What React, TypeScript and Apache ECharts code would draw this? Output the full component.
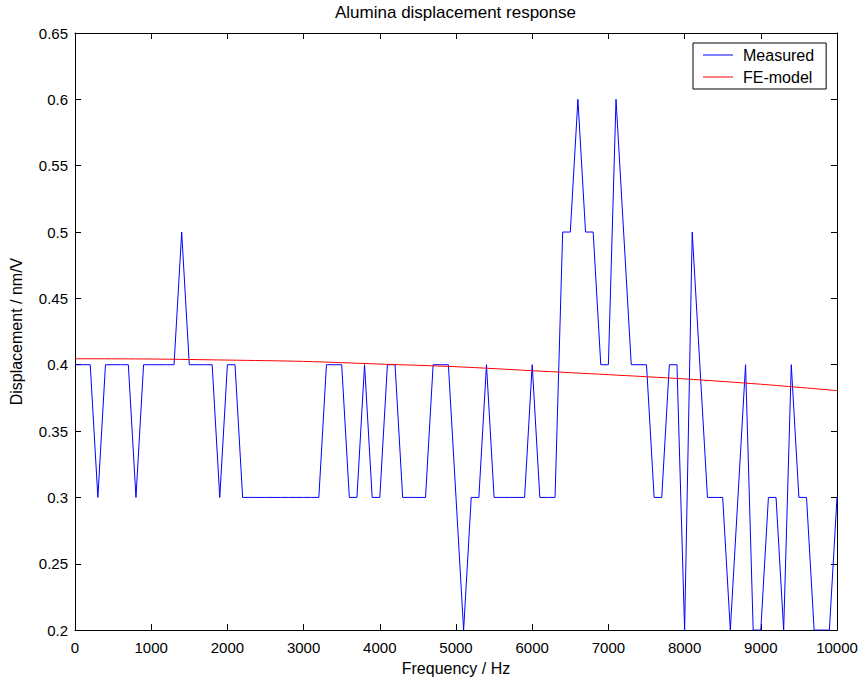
import React, { useEffect, useRef } from "react";
import * as echarts from "echarts";

// Measured response, sampled every 100 Hz from 0 to 10000 Hz
const FREQ_STEP_HZ = 100;
const measured: number[] = [
  0.4, 0.4, 0.4, 0.3, 0.4, 0.4, 0.4, 0.4, 0.3, 0.4,
  0.4, 0.4, 0.4, 0.4, 0.5, 0.4, 0.4, 0.4, 0.4, 0.3,
  0.4, 0.4, 0.3, 0.3, 0.3, 0.3, 0.3, 0.3, 0.3, 0.3,
  0.3, 0.3, 0.3, 0.4, 0.4, 0.4, 0.3, 0.3, 0.4, 0.3,
  0.3, 0.4, 0.4, 0.3, 0.3, 0.3, 0.3, 0.4, 0.4, 0.4,
  0.3, 0.2, 0.3, 0.3, 0.4, 0.3, 0.3, 0.3, 0.3, 0.3,
  0.4, 0.3, 0.3, 0.3, 0.5, 0.5, 0.6, 0.5, 0.5, 0.4,
  0.4, 0.6, 0.5, 0.4, 0.4, 0.4, 0.3, 0.3, 0.4, 0.4,
  0.2, 0.5, 0.4, 0.3, 0.3, 0.3, 0.2, 0.3, 0.4, 0.2,
  0.2, 0.3, 0.3, 0.2, 0.4, 0.3, 0.3, 0.2, 0.2, 0.2,
  0.3,
];

// FE-model curve
const feFreqs: number[] = [0, 1000, 2000, 3000, 4000, 5000, 6000, 7000, 8000, 9000, 10000];
const feModel: number[] = [0.4045, 0.4043, 0.4035, 0.4025, 0.4005, 0.3985, 0.3955, 0.3925, 0.3893, 0.3853, 0.3805];

const seriesNames = ["Measured", "FE-model"];
const titleText = "Alumina displacement response";
const xName = "Frequency / Hz";
const yName = "Displacement / nm/V";

const FONT = "'Liberation Sans', Arial, Helvetica, sans-serif";

export default function App() {
  const ref = useRef<HTMLDivElement>(null);
  useEffect(() => {
    if (!ref.current) return;
    const chart = echarts.init(ref.current, undefined, { renderer: "svg" });
    const measuredData = measured.map((v, i) => [i * FREQ_STEP_HZ, v]);
    const feData = feFreqs.map((f, i) => [f, feModel[i]]);
    const axisCommon = {
      type: "value" as const,
      axisLine: { show: true, onZero: false, lineStyle: { color: "#000", width: 1 } },
      axisTick: { show: true, inside: true, length: 6, lineStyle: { color: "#000" } },
      splitLine: { show: false },
    };
    chart.setOption({
      animation: false,
      backgroundColor: "#fff",
      title: {
        text: titleText,
        left: 335,
        top: 4,
        padding: 0,
        textStyle: { fontFamily: FONT, fontSize: 17, fontWeight: "normal", color: "#000" },
      },
      grid: { left: 75, right: 26, top: 33, bottom: 49, containLabel: false },
      legend: {
        orient: "vertical",
        left: 693,
        top: 43,
        data: seriesNames,
        icon: "rect",
        itemWidth: 30,
        itemHeight: 1,
        itemGap: 4,
        padding: [3, 12, 3, 10],
        borderColor: "#000",
        borderWidth: 1,
        backgroundColor: "#fff",
        textStyle: { fontFamily: FONT, fontSize: 16, color: "#000", lineHeight: 18, padding: [0, 0, 0, 5] },
      },
      xAxis: [
        {
          ...axisCommon,
          position: "bottom",
          min: 0,
          max: 10000,
          interval: 1000,
          axisLabel: {
            show: true,
            color: "#000",
            fontFamily: FONT,
            fontSize: 15,
            margin: 10,
            formatter: (v: number) => String(Math.round(v)),
          },
          name: xName,
          nameLocation: "middle",
          nameGap: 26,
          nameTextStyle: { color: "#000", fontFamily: FONT, fontSize: 16 },
        },
        {
          ...axisCommon,
          position: "top",
          min: 0,
          max: 10000,
          interval: 1000,
          axisLabel: { show: false },
        },
      ],
      yAxis: [
        {
          ...axisCommon,
          position: "left",
          min: 0.2,
          max: 0.65,
          interval: 0.05,
          axisLabel: {
            show: true,
            color: "#000",
            fontFamily: FONT,
            fontSize: 15,
            margin: 7,
            formatter: (v: number) => String(Math.round(v * 100) / 100),
          },
          name: yName,
          nameLocation: "middle",
          nameGap: 51,
          nameRotate: 90,
          nameTextStyle: { color: "#000", fontFamily: FONT, fontSize: 16 },
        },
        {
          ...axisCommon,
          position: "right",
          min: 0.2,
          max: 0.65,
          interval: 0.05,
          axisLabel: { show: false },
        },
      ],
      series: [
        {
          name: seriesNames[0],
          type: "line",
          data: measuredData,
          xAxisIndex: 0,
          yAxisIndex: 0,
          showSymbol: false,
          symbol: "none",
          lineStyle: { color: "#0000ff", width: 1 },
          itemStyle: { color: "#0000ff" },
        },
        {
          name: seriesNames[1],
          type: "line",
          data: feData,
          xAxisIndex: 0,
          yAxisIndex: 0,
          smooth: 0.3,
          showSymbol: false,
          symbol: "none",
          lineStyle: { color: "#ff0000", width: 1 },
          itemStyle: { color: "#ff0000" },
        },
      ],
    });
    return () => chart.dispose();
  }, []);
  return (
    <div
      ref={ref}
      style={{ position: "fixed", left: 0, top: 0, width: 863, height: 681, background: "#fff" }}
    />
  );
}
